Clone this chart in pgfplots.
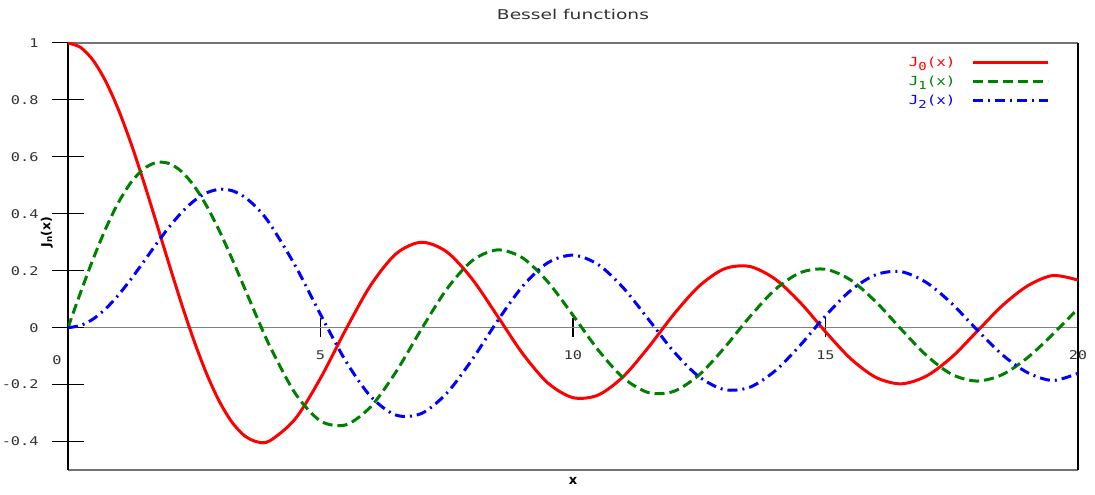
\documentclass[border=0pt]{standalone}
\usepackage{fontspec}
\usepackage{graphicx}
\usepackage{pgfplots}
\pgfplotsset{compat=1.18}
\usepackage{pgfplotstable}
\setmainfont{DejaVu Sans}
\newfontfamily\monofont{DejaVu Sans Mono}

\definecolor{jred}{RGB}{255,0,0}
\definecolor{jgreen}{RGB}{0,128,0}
\definecolor{jblue}{RGB}{0,0,255}

% lowered subscript used in the legend entries
\newcommand\lsub[1]{\raisebox{-4pt}{\fontsize{11}{11}\selectfont #1}}
% horizontally widened text
\newcommand\wide[2][1.27]{\scalebox{#1}[1]{#2}}

% Bessel functions of the first kind J0, J1, J2
\pgfplotstableread{
x     j0        j1        j2
0.00  1.00000   0.00000   0.00000
0.25  0.98444   0.12403   0.00777
0.50  0.93847   0.24227   0.03061
0.75  0.86424   0.34924   0.06708
1.00  0.76520   0.44005   0.11490
1.25  0.64591   0.51062   0.17109
1.50  0.51183   0.55794   0.23209
1.75  0.36903   0.58016   0.29400
2.00  0.22389   0.57672   0.35283
2.25  0.08275   0.54838   0.40470
2.50 -0.04838   0.49709   0.44606
2.75 -0.16414   0.42597   0.47394
3.00 -0.26005   0.33906   0.48609
3.25 -0.33275   0.24112   0.48113
3.50 -0.38013   0.13738   0.45863
3.75 -0.40140   0.03323   0.41913
4.00 -0.39715  -0.06604   0.36413
4.50 -0.32054  -0.23106   0.21785
5.00 -0.17760  -0.32758   0.04657
5.50 -0.00684  -0.34144  -0.11732
6.00  0.15065  -0.27668  -0.24287
6.50  0.26009  -0.15384  -0.30743
7.00  0.30008  -0.00468  -0.30142
7.50  0.26634   0.13525  -0.23027
8.00  0.17165   0.23464  -0.11299
8.50  0.04194   0.27312   0.02232
9.00 -0.09033   0.24531   0.14484
9.50 -0.19393   0.16126   0.22788
10.00 -0.24594   0.04347   0.25463
10.50 -0.23664  -0.07885   0.22162
11.00 -0.17119  -0.17679   0.13905
11.50 -0.06765  -0.22840   0.02793
12.00  0.04769  -0.22345  -0.08493
12.50  0.14627  -0.16548  -0.17275
13.00  0.20693  -0.07032  -0.21775
13.50  0.21498   0.03805  -0.20934
14.00  0.17107   0.13338  -0.15202
14.50  0.08838   0.19316  -0.06174
15.00 -0.01422   0.20510   0.04157
15.50 -0.10926   0.16721   0.13084
16.00 -0.17490   0.09040   0.18620
16.50 -0.19729  -0.00576   0.19659
17.00 -0.16985  -0.09767   0.15836
17.50 -0.10362  -0.16397   0.08488
18.00 -0.01336  -0.18755  -0.00748
18.50  0.07717  -0.16507  -0.09502
19.00  0.14663  -0.10570  -0.15776
19.50  0.18312  -0.02337  -0.18552
20.00  0.16703   0.06683  -0.16035
}\bessel

\tikzset{ticktext/.style={font=\monofont\fontsize{12}{14}\selectfont, text=black!80}}
\pgfplotsset{
  common/.style={
    scale only axis, width=1010pt, height=427pt,
    xmin=0, xmax=20, ymin=-0.5, ymax=1,
  },
}

\begin{document}
\begin{tikzpicture}
\useasboundingbox (-68pt,-25pt) rectangle (1027pt,470pt);

% zero line with the x ticks and their labels
\begin{axis}[
  common,
  axis x line=middle, axis y line=none,
  x axis line style={draw=black!50, line width=1.2pt, -},
  xtick={5,10,15,20}, xticklabels={\wide{5},\wide{10},\wide{15},\wide{20}},
  tick align=center, major tick length=19pt,
  tick style={black, line width=1.5pt},
  xticklabel style={ticktext, anchor=center, yshift=-18pt},
  extra x ticks={0}, extra x tick labels={\wide{0}},
  extra x tick style={major tick length=0pt,
    xticklabel style={ticktext, anchor=center, xshift=-11pt, yshift=-14pt}},
]
\end{axis}

% frame, y ticks and the three curves
\begin{axis}[
  common,
  separate axis lines,
  x axis line style={draw=black!55, line width=1.3pt},
  y axis line style={draw=black, line width=1.6pt},
  xtick=\empty,
  ytick={-0.4,-0.2,0,0.2,0.4,0.6,0.8,1},
  yticklabels={\wide{-0.4},\wide{-0.2},\wide{0},\wide{0.2},\wide{0.4},\wide{0.6},\wide{0.8},\wide{1}},
  ytick pos=left,
  tick align=center, major tick length=32pt,
  tick style={black, line width=1pt},
  yticklabel style={ticktext, anchor=east, xshift=-10pt},
  title={\wide[1.38]{Bessel functions}},
  title style={at={(axis description cs:0.5,1)}, anchor=base, yshift=17pt,
    font=\fontsize{13.5}{15}\selectfont, text=black!80},
  xlabel={\textbf{x}},
  xlabel style={at={(axis description cs:0.5,-0.026)}, anchor=center,
    font=\fontsize{13}{15}\selectfont},
  ylabel={\textbf{J\textsubscript{n}(x)}},
  ylabel style={at={(axis description cs:-0.021,0.557)}, anchor=center,
    font=\fontsize{12.5}{14}\selectfont},
  legend plot pos=right,
  legend cell align=right,
  legend image code/.code={\draw[#1] (0pt,3pt) -- (75pt,3pt);},
  legend style={draw=none, fill=none, at={(axis description cs:0.972,0.970)},
    anchor=north east, inner sep=0pt, column sep=16pt, row sep=0pt,
    nodes={inner sep=0pt, text height=10pt, text depth=9pt},
    font=\monofont\fontsize{12.5}{14}\selectfont},
  every axis plot/.append style={line width=3pt},
]
\addplot[jred, smooth] table[x=x, y=j0] {\bessel};
\addlegendentry{\textcolor{jred}{\wide{J\lsub{0}(x)}}}
\addplot[jgreen, smooth, dash pattern=on 10pt off 5pt] table[x=x, y=j1] {\bessel};
\addlegendentry{\textcolor{jgreen}{\wide{J\lsub{1}(x)}}}
\addplot[jblue, smooth, dash pattern=on 10pt off 5pt on 2pt off 5pt] table[x=x, y=j2] {\bessel};
\addlegendentry{\textcolor{jblue}{\wide{J\lsub{2}(x)}}}
\end{axis}
\end{tikzpicture}
\end{document}
